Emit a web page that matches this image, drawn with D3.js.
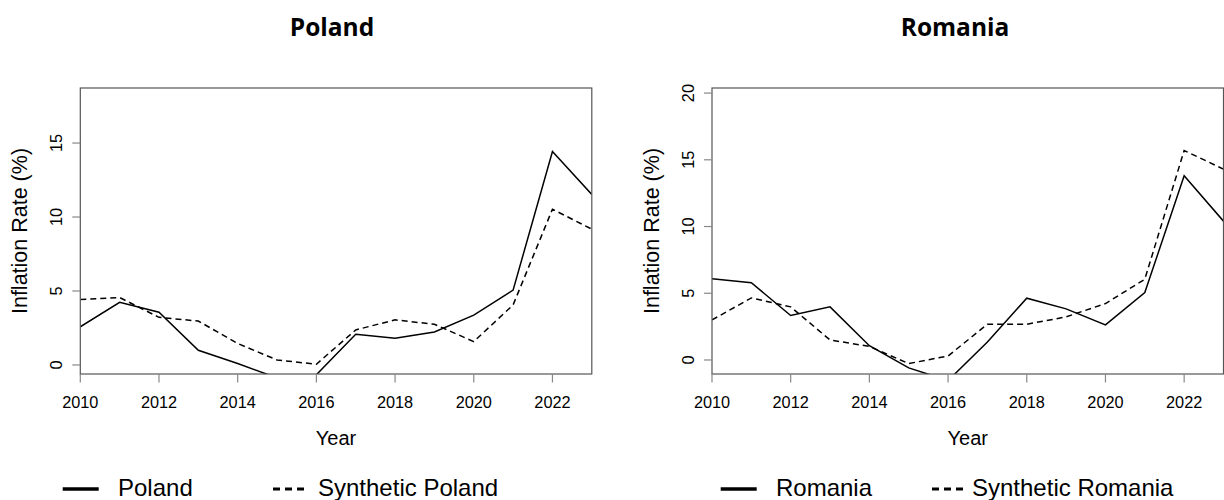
<!DOCTYPE html>
<html>
<head>
<meta charset="utf-8">
<script src="https://cdn.jsdelivr.net/npm/d3@7"></script>
<style>
  body { margin: 0; background: #fff; }
  svg { display: block; }
  .tick-label, .axis-title, .legend-text { font-family: "Liberation Sans", Arial, sans-serif; fill: #000; }
  .panel-title { font-family: "Open Sans", sans-serif; font-weight: 700; fill: #000; }
</style>
</head>
<body>
<div id="chart"></div>
<script>
// Years on the x axis
const years = [2010, 2011, 2012, 2013, 2014, 2015, 2016, 2017, 2018, 2019, 2020, 2021, 2022, 2023];
const xTicks = [2010, 2012, 2014, 2016, 2018, 2020, 2022];

// Poland panel
const polandActual = [2.58, 4.24, 3.56, 0.99, 0.1, -0.87, -0.66, 2.08, 1.81, 2.23, 3.37, 5.06, 14.43, 11.53];
const polandSynthetic = [4.42, 4.56, 3.22, 2.97, 1.45, 0.34, 0.05, 2.37, 3.05, 2.75, 1.58, 4.06, 10.53, 9.18];
const polandYTicks = [0, 5, 10, 15];

// Romania panel
const romaniaActual = [6.09, 5.79, 3.33, 3.98, 1.07, -0.59, -1.54, 1.34, 4.63, 3.83, 2.63, 5.05, 13.8, 10.4];
const romaniaSynthetic = [3.0, 4.65, 3.98, 1.5, 1.02, -0.27, 0.3, 2.68, 2.68, 3.23, 4.23, 6.05, 15.7, 14.3];
const romaniaYTicks = [0, 5, 10, 15, 20];

const panels = [
  { name: 'Poland', actual: polandActual, synthetic: polandSynthetic, yTicks: polandYTicks,
    yDomain: [-0.61, 18.72], left: 80.3, titleX: 332,
    legend: { solidX: 62.7, textX: 118, dashX: 273, dashText: 318 } },
  { name: 'Romania', actual: romaniaActual, synthetic: romaniaSynthetic, yTicks: romaniaYTicks,
    yDomain: [-1.05, 20.38], left: 712, titleX: 955,
    legend: { solidX: 720.7, textX: 776, dashX: 932, dashText: 972 } }
];

const W = 1224, H = 500;
const boxW = 511.5, boxTop = 88, boxBottom = 374;

const svg = d3.select('#chart').append('svg')
  .attr('width', W)
  .attr('height', H);

panels.forEach((p, idx) => {
  const x = d3.scaleLinear().domain([2010, 2023]).range([p.left, p.left + boxW]);
  const y = d3.scaleLinear().domain(p.yDomain).range([boxBottom, boxTop]);

  // Title
  svg.append('text')
    .attr('class', 'panel-title')
    .attr('x', p.titleX)
    .attr('y', 36)
    .attr('text-anchor', 'middle')
    .style('font-size', '24.5px')
    .text(p.name);

  // Clip for the lines
  svg.append('clipPath')
    .attr('id', 'clip' + idx)
    .append('rect')
      .attr('x', p.left)
      .attr('y', boxTop)
      .attr('width', boxW)
      .attr('height', boxBottom - boxTop);

  const line = d3.line()
    .x((d, i) => x(years[i]))
    .y(d => y(d));

  const g = svg.append('g').attr('clip-path', `url(#clip${idx})`);
  g.append('path')
    .datum(p.synthetic)
    .attr('d', line)
    .attr('fill', 'none')
    .attr('stroke', '#000')
    .attr('stroke-width', 1.5)
    .attr('stroke-dasharray', '6,4');
  g.append('path')
    .datum(p.actual)
    .attr('d', line)
    .attr('fill', 'none')
    .attr('stroke', '#000')
    .attr('stroke-width', 1.5);

  // Box
  svg.append('rect')
    .attr('x', p.left)
    .attr('y', boxTop)
    .attr('width', boxW)
    .attr('height', boxBottom - boxTop)
    .attr('fill', 'none')
    .attr('stroke', '#555')
    .attr('stroke-width', 1.2);

  // X axis ticks + labels
  const xa = svg.append('g');
  xTicks.forEach(t => {
    xa.append('line')
      .attr('x1', x(t)).attr('x2', x(t))
      .attr('y1', boxBottom).attr('y2', boxBottom + 8.5)
      .attr('stroke', '#888').attr('stroke-width', 1.2);
    xa.append('text')
      .attr('class', 'tick-label')
      .attr('x', x(t))
      .attr('y', 407.5)
      .attr('text-anchor', 'middle')
      .style('font-size', '16.3px')
      .text(t);
  });

  // Y axis ticks + labels
  const ya = svg.append('g');
  p.yTicks.forEach(t => {
    ya.append('line')
      .attr('x1', p.left - 8).attr('x2', p.left)
      .attr('y1', y(t)).attr('y2', y(t))
      .attr('stroke', '#888').attr('stroke-width', 1.2);
    ya.append('text')
      .attr('class', 'tick-label')
      .attr('transform', `translate(${p.left - 18.5},${y(t)}) rotate(-90)`)
      .attr('text-anchor', 'middle')
      .style('font-size', '16.3px')
      .text(t);
  });

  // Axis titles
  svg.append('text')
    .attr('class', 'axis-title')
    .attr('x', p.left + boxW / 2)
    .attr('y', 445)
    .attr('text-anchor', 'middle')
    .style('font-size', '20px')
    .text('Year');
  svg.append('text')
    .attr('class', 'axis-title')
    .attr('transform', `translate(${p.left - 53.5},${(boxTop + boxBottom) / 2}) rotate(-90)`)
    .attr('text-anchor', 'middle')
    .style('font-size', '21.5px')
    .text('Inflation Rate (%)');

  // Legend
  const lg = svg.append('g');
  lg.append('line')
    .attr('x1', p.legend.solidX).attr('x2', p.legend.solidX + 36)
    .attr('y1', 489).attr('y2', 489)
    .attr('stroke', '#000').attr('stroke-width', 3.5);
  lg.append('text')
    .attr('class', 'legend-text')
    .attr('x', p.legend.textX)
    .attr('y', 495.5)
    .style('font-size', '24px')
    .text(p.name);
  lg.append('line')
    .attr('x1', p.legend.dashX).attr('x2', p.legend.dashX + 31)
    .attr('y1', 489).attr('y2', 489)
    .attr('stroke', '#000').attr('stroke-width', 3)
    .attr('stroke-dasharray', '7,5');
  lg.append('text')
    .attr('class', 'legend-text')
    .attr('x', p.legend.dashText)
    .attr('y', 495.5)
    .style('font-size', '24px')
    .text('Synthetic ' + p.name);
});
</script>
</body>
</html>
